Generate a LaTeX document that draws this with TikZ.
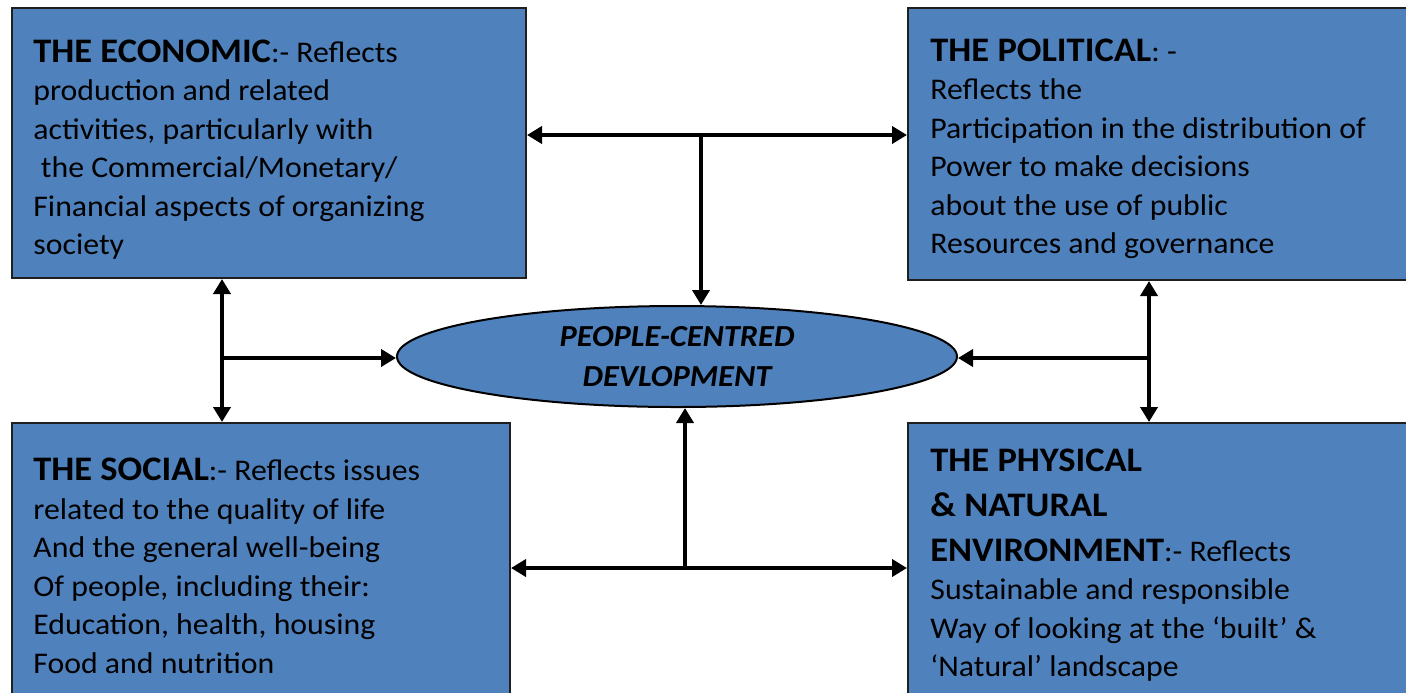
\documentclass[tikz,border=0pt]{standalone}
\usepackage{fontspec}
\setmainfont{Carlito}[FakeStretch=1.06]
\usetikzlibrary{arrows.meta, positioning, calc, shapes.geometric}
\definecolor{panelBlue}{HTML}{4F81BD}
\definecolor{edgeDark}{HTML}{1F1F1F}
\newcommand{\Heading}[1]{{\fontsize{17.2}{19.25}\selectfont\bfseries #1}}
\tikzset{
    panel/.style={draw=edgeDark, line width=1pt, fill=panelBlue, inner sep=0pt},
    panelText/.style={anchor=north west, inner sep=0pt, align=left, font=\fontsize{15}{19.25}\selectfont},
    hub/.style={ellipse, draw=black, line width=1pt, fill=panelBlue, inner sep=0pt, minimum width=280pt, minimum height=50.5pt, align=center, font=\fontsize{15.3}{20}\selectfont\bfseries\itshape},
    tipHead/.tip={Triangle[length=7.5pt, width=8.5pt]},
    twoWay/.style={line width=2pt, tipHead-tipHead},
    oneWay/.style={line width=2pt, -tipHead}
}

\begin{document}
\begin{tikzpicture}[x=0.5pt, y=-0.5pt]
        \useasboundingbox (0,0) rectangle (1406,692);

        % Four panels
        \node[panel, minimum width=257pt, minimum height=135pt] (eco) at (269,143) {};
        \node[panel, minimum width=254pt, minimum height=136pt] (pol) at (1162,144) {};
        \node[panel, minimum width=249pt, minimum height=144.5pt] (soc) at (261,567.5) {};
        \node[panel, minimum width=254pt, minimum height=144.5pt] (phy) at (1162,567.5) {};

        % Panel texts
        \node[panelText] (ecoText) at (33,39.5) {\Heading{THE ECONOMIC}:- Reflects\\production and related\\activities, particularly with\\\hspace{0.25em}the Commercial/Monetary/\\Financial aspects of organizing\\society};
        \node[panelText] (polText) at (930,38.5) {\Heading{THE POLITICAL}: -\\Reflects the\\Participation in the distribution of\\Power to make decisions\\about the use of public\\Resources and governance};
        \node[panelText] (socText) at (33,458) {\Heading{THE SOCIAL}:- Reflects issues\\related to the quality of life\\And the general well-being\\Of people, including their:\\Education, health, housing\\Food and nutrition};
        \node[panelText] (phyText) at (930,448.5) {\Heading{THE PHYSICAL}\\[3.25pt]\Heading{\& NATURAL}\\[3.25pt]\Heading{ENVIRONMENT}:- Reflects\\Sustainable and responsible\\Way of looking at the ‘built’ \&\\‘Natural’ landscape};

        % Centre
        \node[hub] (dev) at (677,356.5) {PEOPLE-CENTRED\\DEVLOPMENT};

        % Junctions
        \coordinate (topJoin) at (701,135);
        \coordinate (leftJoin) at (222,358);
        \coordinate (rightJoin) at (1149,358);
        \coordinate (botJoin) at (685,568);

        % Connectors
        \draw[twoWay] (topJoin -| eco.east) -- (topJoin -| pol.west);
        \draw[oneWay] (topJoin) -- (topJoin |- dev.north);
        \draw[twoWay] (leftJoin |- eco.south) -- (leftJoin |- soc.north);
        \draw[oneWay] (leftJoin) -- (leftJoin -| dev.west);
        \draw[twoWay] (rightJoin |- pol.south) -- (rightJoin |- phy.north);
        \draw[oneWay] (rightJoin) -- (rightJoin -| dev.east);
        \draw[twoWay] (botJoin -| soc.east) -- (botJoin -| phy.west);
        \draw[oneWay] (botJoin) -- (botJoin |- dev.south);
    \end{tikzpicture}
\end{document}
